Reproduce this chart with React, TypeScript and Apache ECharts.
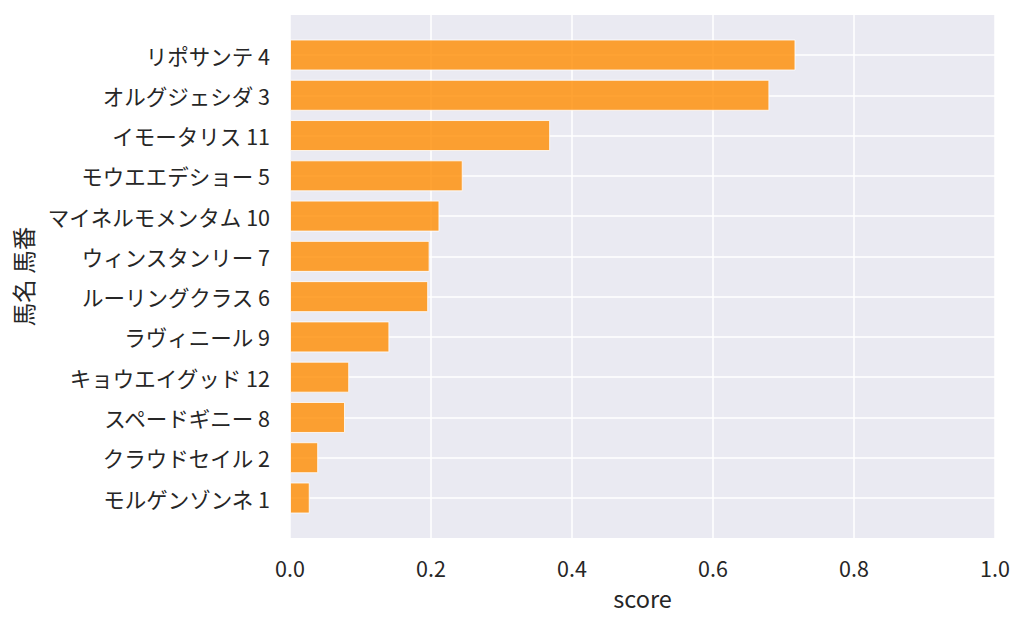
import React, { useEffect, useRef } from "react";
import * as echarts from "echarts";

const categories = [
  "リポサンテ 4",
  "オルグジェシダ 3",
  "イモータリス 11",
  "モウエエデショー 5",
  "マイネルモメンタム 10",
  "ウィンスタンリー 7",
  "ルーリングクラス 6",
  "ラヴィニール 9",
  "キョウエイグッド 12",
  "スペードギニー 8",
  "クラウドセイル 2",
  "モルゲンゾンネ 1",
];
const scores = [0.717, 0.68, 0.369, 0.245, 0.212, 0.198, 0.196, 0.141, 0.084, 0.078, 0.04, 0.028];
const xTicks = [0, 0.2, 0.4, 0.6, 0.8, 1.0];
const xLabel = "score";
const yLabel = "馬名 馬番";

const FONT = "'Noto Sans CJK JP', 'Noto Sans', sans-serif";
const TEXT = "#262626";

export default function App() {
  const ref = useRef<HTMLDivElement>(null);
  useEffect(() => {
    if (!ref.current) return;
    const chart = echarts.init(ref.current, undefined, { renderer: "svg" });
    chart.setOption({
      animation: false,
      backgroundColor: "#ffffff",
      textStyle: { fontFamily: FONT, color: TEXT },
      grid: [
        { left: 290, right: 29, top: 15, bottom: 89, show: true, backgroundColor: "#eaeaf2", borderWidth: 0, containLabel: false },
        { left: 290, right: 29, top: 55, bottom: 129, show: false, containLabel: false },
      ],
      xAxis: [
        {
          type: "value",
          gridIndex: 0,
          min: xTicks[0],
          max: xTicks[xTicks.length - 1],
          interval: 0.2,
          name: xLabel,
          nameLocation: "middle",
          nameGap: 48,
          nameTextStyle: { fontSize: 23.5, color: TEXT, fontFamily: FONT },
          axisLine: { show: false },
          axisTick: { show: false },
          axisLabel: { fontSize: 21.5, color: TEXT, fontFamily: FONT, margin: 19, formatter: (v: number) => v.toFixed(1) },
          splitLine: { show: true, lineStyle: { color: "#ffffff", width: 1.5 } },
        },
        {
          type: "value",
          gridIndex: 1,
          min: 0,
          max: 1,
          show: false,
          splitLine: { show: false },
        },
      ],
      yAxis: [
        {
          type: "value",
          gridIndex: 0,
          show: false,
          splitLine: { show: false },
        },
        {
          type: "category",
          gridIndex: 1,
          data: categories,
          inverse: true,
          boundaryGap: false,
          name: yLabel,
          nameLocation: "middle",
          nameGap: 255,
          nameRotate: 90,
          nameTextStyle: { fontSize: 23.5, color: TEXT, fontFamily: FONT },
          axisLine: { show: false },
          axisTick: { show: false },
          axisLabel: { fontSize: 21.5, color: TEXT, fontFamily: FONT, margin: 20 },
          splitLine: { show: true, lineStyle: { color: "#ffffff", width: 1.5 } },
        },
      ],
      series: [
        {
          type: "bar",
          xAxisIndex: 1,
          yAxisIndex: 1,
          data: scores,
          barWidth: 31,
          itemStyle: {
            color: "rgba(255,140,0,0.8)",
            borderColor: "rgba(255,255,255,0.8)",
            borderWidth: 1,
          },
        },
      ],
    });
    return () => chart.dispose();
  }, []);
  return <div ref={ref} style={{ width: 1024, height: 627, position: "absolute", left: 0, top: 0 }} />;
}
